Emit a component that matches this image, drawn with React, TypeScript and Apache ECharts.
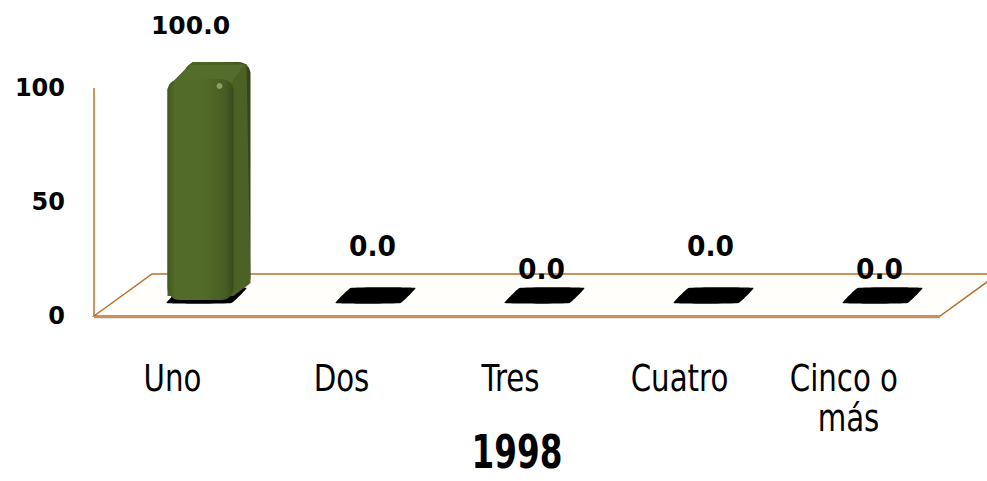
import React, { useEffect, useRef } from "react";
import * as echarts from "echarts";

const categories = ["Uno", "Dos", "Tres", "Cuatro", "Cinco o más"];
const values = [100.0, 0.0, 0.0, 0.0, 0.0];
const yTicks = [0, 50, 100];
const chartTitle = "1998";

const BROWN = "#b8702e";
const BOLD_FONT = '"DejaVu Sans", Verdana, sans-serif';

export default function App() {
  const ref = useRef<HTMLDivElement>(null);

  useEffect(() => {
    if (!ref.current) return;
    const chart = echarts.init(ref.current, null, { renderer: "svg" });

    const DX = 58; // full floor depth offset
    const DY = -42;

    const floorItem = (params: any, api: any) => {
      const cs = params.coordSys;
      const p0 = api.coord([0, 0]);
      const y0 = p0[1];
      const xl = cs.x + 6;
      const xr = cs.x + cs.width + 7;
      return {
        type: "group",
        children: [
          {
            type: "polygon",
            shape: {
              points: [
                [xl, y0],
                [xl + DX, y0 + DY],
                [xr + DX, y0 + DY],
                [xr, y0],
              ],
            },
            style: { fill: "#fffefa", stroke: BROWN, lineWidth: 1.5 },
          },
          {
            type: "line",
            shape: { x1: xl, y1: y0 + 1.6, x2: xr, y2: y0 + 1.6 },
            style: { stroke: "#9a9a9a", lineWidth: 1.2 },
          },
          {
            type: "line",
            shape: { x1: xl, y1: cs.y, x2: xl, y2: y0 },
            style: { stroke: BROWN, lineWidth: 1.5 },
          },
        ],
      };
    };

    const barItem = (params: any, api: any) => {
      const i = api.value(0);
      const v = api.value(1);
      const p0 = api.coord([i, 0]);
      const p1 = api.coord([i, v]);
      const cx = p0[0] + 34;
      const base = p0[1] + DY / 2;
      const top = p1[1] + DY / 2;
      const children: any[] = [];
      // category label (narrow, wrapped)
      children.push({
        type: "text",
        x: p0[0],
        y: p0[1] + 42,
        scaleX: 0.77,
        style: {
          text: categories[i],
          font: `38px ${BOLD_FONT}`,
          fill: "#000000",
          width: 165,
          overflow: "break",
          lineHeight: 40,
          align: "center",
          verticalAlign: "top",
          textAlign: "center",
          textVerticalAlign: "top",
        },
      });
      // floor shadow
      children.push({
        type: "polygon",
        shape: {
          points: [
            [cx - 40, base + 8],
            [cx - 25, base - 7],
            [cx + 40, base - 7],
            [cx + 25, base + 8],
          ],
          smooth: 0.08,
        },
        style: { fill: "#000000" },
      });
      if (v > 0) {
        const fL = cx - 39, fR = cx + 27, fT = top + 12, fB = base + 5;
        const bL = cx - 22, bR = cx + 44, bT = top - 5, bB = base - 6;
        const sideGrad = new echarts.graphic.LinearGradient(0, 0, 1, 0, [
          { offset: 0, color: "#5b732d" },
          { offset: 0.7, color: "#485d23" },
          { offset: 1, color: "#33421a" },
        ]);
        children.push({
          type: "rect",
          shape: { x: bL, y: bT, width: bR - bL, height: bB - bT, r: 12 },
          style: { fill: sideGrad },
        });
        children.push({
          type: "polygon",
          shape: {
            points: [
              [fL, fT + 10],
              [fL + 8, fT],
              [bL + 8, bT],
              [bR - 4, bT + 2],
              [bR, bB - 6],
              [fR, fB - 4],
              [fL, fB - 4],
            ],
          },
          style: { fill: "#4b6125" },
        });
        children.push({
          type: "polygon",
          shape: {
            points: [
              [fL + 4, fT + 6],
              [bL + 6, bT + 3],
              [bR - 6, bT + 3],
              [fR - 4, fT + 6],
            ],
          },
          style: { fill: "#546d2a" },
        });
        const frontGrad = new echarts.graphic.LinearGradient(0, 0, 1, 0, [
          { offset: 0, color: "#42571f" },
          { offset: 0.12, color: "#536b2a" },
          { offset: 0.55, color: "#536b29" },
          { offset: 0.88, color: "#475c23" },
          { offset: 1, color: "#394a1b" },
        ]);
        children.push({
          type: "rect",
          shape: { x: fL, y: fT, width: fR - fL, height: fB - fT, r: 12 },
          style: { fill: frontGrad },
        });
        children.push({
          type: "circle",
          shape: { cx: fR - 14, cy: fT + 7, r: 3 },
          style: { fill: "#9fb070", opacity: 0.8 },
        });
        children.push({
          type: "text",
          x: cx - 16,
          y: top - 42,
          style: {
            text: v.toFixed(1),
            font: `bold 25px ${BOLD_FONT}`,
            fill: "#000000",
            align: "center",
            verticalAlign: "middle",
            textAlign: "center",
            textVerticalAlign: "middle",
          },
        });
      } else {
        const high = i % 2 === 1;
        children.push({
          type: "text",
          x: cx - 3,
          y: high ? base - 49 : base - 26,
          scaleX: 0.95,
          style: {
            text: v.toFixed(1),
            font: `bold 28px ${BOLD_FONT}`,
            fill: "#000000",
            align: "center",
            verticalAlign: "middle",
            textAlign: "center",
            textVerticalAlign: "middle",
          },
        });
      }
      return { type: "group", children };
    };

    chart.setOption({
      animation: false,
      backgroundColor: "#ffffff",
      grid: { left: 88, top: 88, width: 845, bottom: 165, containLabel: false },
      xAxis: {
        type: "category",
        data: categories,
        axisLine: { show: false },
        axisTick: { show: false },
        splitLine: { show: false },
        axisLabel: { show: false },
      },
      yAxis: {
        type: "value",
        min: yTicks[0],
        max: yTicks[yTicks.length - 1],
        interval: yTicks[1] - yTicks[0],
        axisLine: { show: false },
        axisTick: { show: false },
        splitLine: { show: false },
        axisLabel: {
          margin: 23,
          fontFamily: BOLD_FONT,
          fontWeight: "bold",
          fontSize: 24,
          color: "#000000",
        },
      },
      graphic: [
        {
          type: "text",
          x: 517,
          y: 452,
          scaleX: 0.71,
          style: {
            text: chartTitle,
            font: `bold 46px ${BOLD_FONT}`,
            lineHeight: 40,
            fill: "#000000",
            align: "center",
            verticalAlign: "middle",
            textAlign: "center",
            textVerticalAlign: "middle",
          },
        },
      ],
      series: [
        {
          type: "custom",
          renderItem: floorItem,
          data: [[0, 0]],
          z: 1,
          silent: true,
        },
        {
          type: "custom",
          renderItem: barItem,
          data: values.map((v, i) => [i, v]),
          encode: { x: 0, y: 1 },
          z: 2,
        },
      ],
    });

    return () => chart.dispose();
  }, []);

  return (
    <div
      ref={ref}
      style={{ position: "absolute", left: 0, top: 0, width: 987, height: 481 }}
    />
  );
}
